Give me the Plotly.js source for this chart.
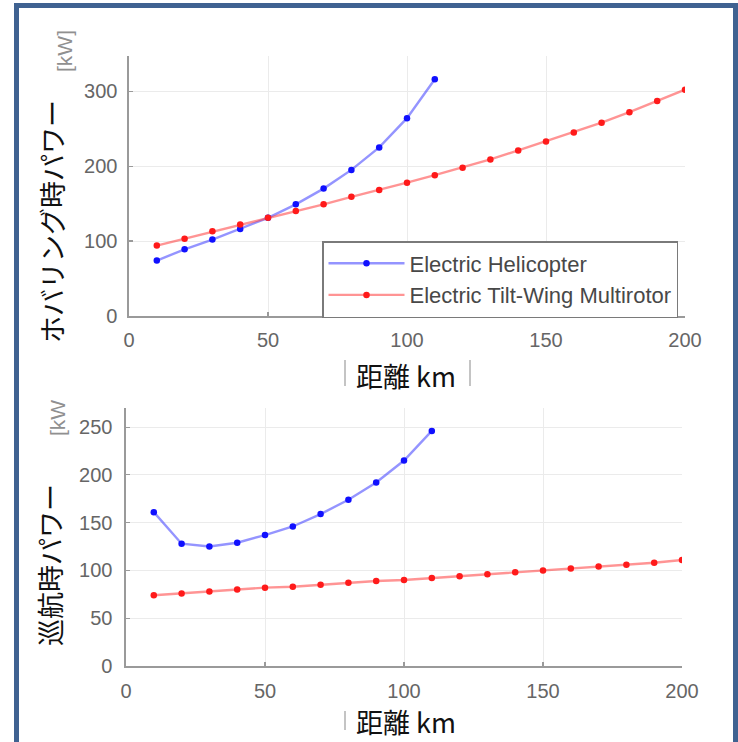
<!DOCTYPE html>
<html>
<head>
<meta charset="utf-8">
<script src="https://cdn.plot.ly/plotly-3.0.1.min.js"></script>
<style>
  html, body { margin: 0; padding: 0; background: #ffffff; }
  #wrap { position: relative; width: 738px; height: 742px; overflow: hidden; }
  #chart { position: absolute; left: 0; top: 0; width: 738px; height: 742px; }
  #frame { position: absolute; left: 14px; top: 3px; width: 714px; height: 800px;
           border: 5px solid #3f6291; border-bottom: none; pointer-events: none; }
</style>
</head>
<body>
<div id="wrap">
  <div id="chart"></div>
  <div id="frame"></div>
</div>
<script>
// ---- data ----
const heliDistance = [10, 20, 30, 40, 50, 60, 70, 80, 90, 100, 110];
const tiltDistance = [10, 20, 30, 40, 50, 60, 70, 80, 90, 100, 110, 120, 130, 140, 150, 160, 170, 180, 190, 200];

const heliHover = [74, 89, 102, 116, 131, 149, 170, 195, 225, 264, 316];
const tiltHover = [94, 103, 113, 122, 131, 140, 149, 159, 168, 178, 188, 198, 209, 221, 233, 245, 258, 272, 287, 302];

const heliCruise = [161, 128, 125, 129, 137, 146, 159, 174, 192, 215, 246];
const tiltCruise = [74, 76, 78, 80, 82, 83, 85, 87, 89, 90, 92, 94, 96, 98, 100, 102, 104, 106, 108, 111];

const seriesNames = ["Electric Helicopter", "Electric Tilt-Wing Multirotor"];
const xTicks = [0, 50, 100, 150, 200];
const yTicksHover = [0, 100, 200, 300];
const yTicksCruise = [0, 50, 100, 150, 200, 250];

const hoverTitle = "ホバリング時パワー";
const cruiseTitle = "巡航時パワー";
const xTitle = "距離 km";

// ---- styles ----
const blueLine = "rgba(60,60,255,0.55)";
const redLine = "rgba(255,60,60,0.55)";
const blueMarker = "#1010ff";
const redMarker = "#ff1a1a";
const tickFont = { family: "Liberation Sans, Arial, sans-serif", size: 20, color: "#666666" };
const cjk = "Noto Sans CJK JP, sans-serif";

function trace(x, y, name, lineColor, markerColor, xa, ya, show) {
  return {
    x: x, y: y, name: name, type: "scatter", mode: "lines+markers",
    xaxis: xa, yaxis: ya, showlegend: show, legendgroup: name,
    line: { color: lineColor, width: 2.4 },
    marker: { color: markerColor, size: 6.5 },
    hoverinfo: "skip"
  };
}

const data = [
  trace(heliDistance, heliHover, seriesNames[0], blueLine, blueMarker, "x", "y", true),
  trace(tiltDistance, tiltHover, seriesNames[1], redLine, redMarker, "x", "y", true),
  trace(heliDistance, heliCruise, seriesNames[0], blueLine, blueMarker, "x2", "y2", false),
  trace(tiltDistance, tiltCruise, seriesNames[1], redLine, redMarker, "x2", "y2", false)
];

const W = 738, H = 742;
const px = v => v / W;
const py = v => 1 - v / H;

const axisBase = {
  showgrid: true, gridcolor: "#ebebeb", gridwidth: 1,
  showline: true, linecolor: "#9a9a9a", linewidth: 1.6,
  ticks: "inside", ticklen: 4, tickcolor: "#9a9a9a", tickwidth: 1.2,
  zeroline: false, tickfont: tickFont, fixedrange: true
};

const layout = {
  width: W, height: H,
  margin: { l: 0, r: 0, t: 0, b: 0, pad: 0 },
  paper_bgcolor: "rgba(0,0,0,0)",
  plot_bgcolor: "#ffffff",
  showlegend: true,
  xaxis: Object.assign({}, axisBase, {
    domain: [px(129), px(685)], range: [0, 200], anchor: "y",
    tickvals: xTicks, ticklabelstandoff: 5
  }),
  yaxis: Object.assign({}, axisBase, {
    domain: [py(316), py(56)], range: [0, 347], anchor: "x",
    tickvals: yTicksHover, ticklabelstandoff: 6
  }),
  xaxis2: Object.assign({}, axisBase, {
    domain: [px(126), px(682)], range: [0, 200], anchor: "y2",
    tickvals: xTicks, ticklabelstandoff: 6
  }),
  yaxis2: Object.assign({}, axisBase, {
    domain: [py(666), py(408)], range: [0, 270], anchor: "x2",
    tickvals: yTicksCruise, ticklabelstandoff: 8
  }),
  legend: {
    x: px(678), xanchor: "right", y: py(241), yanchor: "top",
    bgcolor: "#ffffff", bordercolor: "#7a7a7a", borderwidth: 1.5,
    font: { family: "Liberation Sans, Arial, sans-serif", size: 22, color: "#484848" },
    itemwidth: 76, traceorder: "grouped", tracegroupgap: 0
  },
  annotations: [
    { text: hoverTitle, xref: "paper", yref: "paper", x: px(51), y: py(222), textangle: -90,
      showarrow: false, xanchor: "center", yanchor: "middle",
      font: { family: cjk, size: 27, color: "#111111" } },
    { text: "[kW]", xref: "paper", yref: "paper", x: px(64), y: py(51), textangle: -90,
      showarrow: false, xanchor: "center", yanchor: "middle",
      font: { family: "Liberation Sans, Arial, sans-serif", size: 21, color: "#909090" } },
    { text: cruiseTitle, xref: "paper", yref: "paper", x: px(49), y: py(565), textangle: -90,
      showarrow: false, xanchor: "center", yanchor: "middle",
      font: { family: cjk, size: 27, color: "#111111" } },
    { text: "[kW", xref: "paper", yref: "paper", x: px(57), y: py(418), textangle: -90,
      showarrow: false, xanchor: "center", yanchor: "middle",
      font: { family: "Liberation Sans, Arial, sans-serif", size: 21, color: "#909090" } },
    { text: xTitle, xref: "paper", yref: "paper", x: px(406), y: py(375),
      showarrow: false, xanchor: "center", yanchor: "middle",
      font: { family: cjk, size: 27, color: "#111111" } },
    { text: xTitle, xref: "paper", yref: "paper", x: px(406), y: py(721),
      showarrow: false, xanchor: "center", yanchor: "middle",
      font: { family: cjk, size: 27, color: "#111111" } }
  ],
  shapes: [
    { type: "line", xref: "paper", yref: "paper", x0: px(345), x1: px(345), y0: py(360), y1: py(386),
      line: { color: "#b0b0b0", width: 1.5 } },
    { type: "line", xref: "paper", yref: "paper", x0: px(470), x1: px(470), y0: py(360), y1: py(386),
      line: { color: "#b0b0b0", width: 1.5 } },
    { type: "line", xref: "paper", yref: "paper", x0: px(345), x1: px(345), y0: py(711), y1: py(730),
      line: { color: "#b0b0b0", width: 1.5 } }
  ]
};

Plotly.newPlot("chart", data, layout, { staticPlot: true, displayModeBar: false });
</script>
</body>
</html>
